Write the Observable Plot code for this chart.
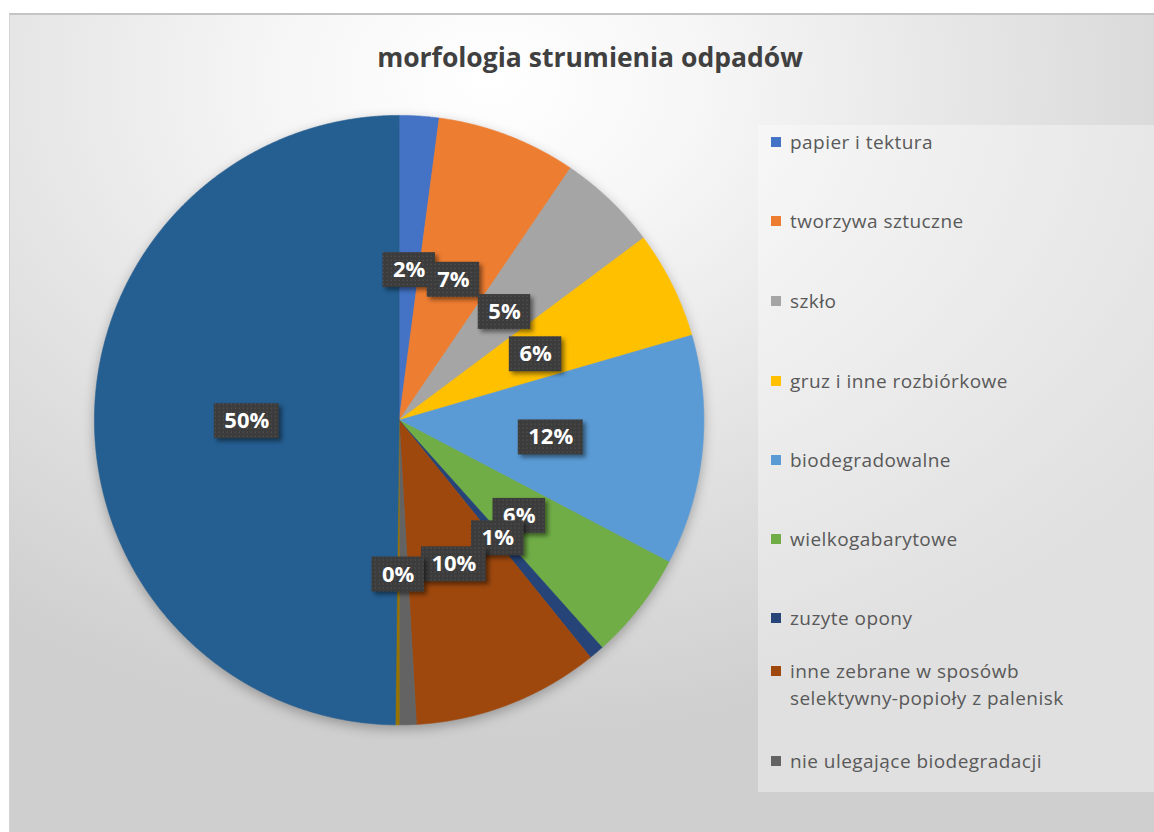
<!DOCTYPE html>
<html>
<head>
<meta charset="utf-8">
<script src="https://cdn.jsdelivr.net/npm/d3@7"></script>
<script src="https://cdn.jsdelivr.net/npm/@observablehq/plot@0.6"></script>
<style>
  html, body { margin: 0; padding: 0; background: #ffffff; }
  #chart {
    position: absolute; left: 9px; top: 13px; width: 1145px; height: 819px;
    border-top: 2px solid #c4c4c4; border-left: 1px solid #d4d4d4;
    box-sizing: border-box;
    background: radial-gradient(ellipse 75% 80% at 42% 8%, #ffffff 0%, #f6f6f6 25%, #e6e6e6 55%, #cfcfcf 100%);
    overflow: hidden;
  }
  #title {
    position: absolute; left: 0; width: 1160px; top: 25px; text-align: center;
    font-family: "Open Sans", sans-serif; font-weight: 700; font-size: 26.5px; color: #404040;
    line-height: 34px;
  }
  #plot { position: absolute; left: 0; top: 0; }
  #legend {
    position: absolute; left: 748px; top: 110px; width: 400px; height: 667px;
    background: rgba(255,255,255,0.35);
  }
  .item { position: absolute; left: 13px; font-family: "Open Sans", sans-serif; font-size: 19px;
          letter-spacing: 0.45px; color: #595959; line-height: 24px; }
  .item .sw { position: absolute; left: 0; top: 7px; width: 10px; height: 10px; }
  .item .lab { margin-left: 19px; white-space: nowrap; }
  .item .lab + .lab { margin-top: 3px; }
  g[aria-label="line"] { filter: drop-shadow(0px 4px 6px rgba(0,0,0,0.28)); }
  g[aria-label="rect"] rect { fill: url(#dots); filter: drop-shadow(3px 3px 2px rgba(0,0,0,0.45)); }
</style>
</head>
<body>
<svg width="0" height="0" style="position:absolute">
  <defs>
    <pattern id="dots" width="4" height="4" patternUnits="userSpaceOnUse">
      <rect width="4" height="4" fill="#3c3c3c"></rect>
      <rect x="1" y="1" width="1" height="1" fill="#5e5e5e"></rect>
    </pattern>
  </defs>
</svg>
<div id="chart">
  <div id="title">morfologia strumienia odpadów</div>
  <div id="plot"></div>
  <div id="legend"></div>
</div>
<script>
// ---- data ----
const categories = [
  "papier i tektura",
  "tworzywa sztuczne",
  "szkło",
  "gruz i inne rozbiórkowe",
  "biodegradowalne",
  "wielkogabarytowe",
  "zuzyte opony",
  "inne zebrane w sposówb selektywny-popioły z palenisk",
  "nie ulegające biodegradacji",
  "seria 10",
  "seria 11"
];
const values = [2.1, 7.4, 5.3, 5.7, 12.2, 5.7, 0.8, 9.9, 0.9, 0.2, 49.8];
const colors = ["#4472C4", "#ED7D31", "#A5A5A5", "#FFC000", "#5B9BD5", "#70AD47",
                "#264478", "#9E480E", "#636363", "#997300", "#255E91"];
// label of "nie ulegające biodegradacji" is hidden under the "0%" label in the reference
const hiddenLabels = ["nie ulegające biodegradacji"];
const legendLabels = [
  ["papier i tektura"],
  ["tworzywa sztuczne"],
  ["szkło"],
  ["gruz i inne rozbiórkowe"],
  ["biodegradowalne"],
  ["wielkogabarytowe"],
  ["zuzyte opony"],
  ["inne zebrane w sposówb", "selektywny-popioły z palenisk"],
  ["nie ulegające biodegradacji"]
];

// ---- geometry from data ----
const total = d3.sum(values);
let cum = 0;
const slices = values.map((v, i) => {
  const a0 = cum / total * 2 * Math.PI;
  cum += v;
  const a1 = cum / total * 2 * Math.PI;
  return {cat: categories[i], a0, a1, v};
});
const pts = [];
for (const s of slices) {
  pts.push({cat: s.cat, x: 0, y: 0});
  const n = Math.max(2, Math.ceil((s.a1 - s.a0) / (Math.PI / 720)));
  for (let k = 0; k <= n; k++) {
    const a = s.a0 + (s.a1 - s.a0) * k / n;
    pts.push({cat: s.cat, x: Math.sin(a), y: Math.cos(a)});
  }
  pts.push({cat: s.cat, x: 0, y: 0});
}

const R = 305; // pixels per data unit
const labels = slices.filter(s => !hiddenLabels.includes(s.cat)).map(s => {
  const m = (s.a0 + s.a1) / 2;
  const txt = Math.round(s.v / total * 100) + "%";
  const w = 12.5 * (txt.length - 1) + 18 + 22;
  return {cat: s.cat, x: 0.5 * Math.sin(m), y: 0.5 * Math.cos(m) - 2 / R, text: txt, hw: w / 2 / R, hh: 17.5 / R};
});

const labelMarks = labels.flatMap(d => [
  Plot.rect([d], {x1: d => d.x - d.hw, x2: d => d.x + d.hw, y1: d => d.y - d.hh, y2: d => d.y + d.hh, fill: "#3c3c3c"}),
  Plot.text([d], {x: "x", y: "y", text: "text", fill: "white", fontSize: 22, fontWeight: "bold",
                  fontFamily: "Open Sans, sans-serif"})
]);

const plot = Plot.plot({
  width: 1145,
  height: 819,
  margin: 0,
  style: {background: "transparent", overflow: "visible"},
  x: {domain: [-1, 1], range: [389 - R, 389 + R], axis: null},
  y: {domain: [-1, 1], range: [405 + R, 405 - R], axis: null},
  color: {domain: categories, range: colors},
  marks: [
    Plot.line(pts, {x: "x", y: "y", z: "cat", fill: "cat", stroke: "cat", strokeWidth: 0.6, curve: "linear"}),
    ...labelMarks
  ]
});
document.getElementById("plot").appendChild(plot);

// ---- legend ----
const rowTops = [5, 84, 164, 244, 323, 402, 481, 534, 624];
const legend = document.getElementById("legend");
legendLabels.forEach((lines, i) => {
  const it = document.createElement("div");
  it.className = "item";
  it.style.top = rowTops[i] + "px";
  const sw = document.createElement("div");
  sw.className = "sw";
  sw.style.background = colors[i];
  it.appendChild(sw);
  for (const line of lines) {
    const lab = document.createElement("div");
    lab.className = "lab";
    lab.textContent = line;
    it.appendChild(lab);
  }
  legend.appendChild(it);
});
</script>
</body>
</html>
